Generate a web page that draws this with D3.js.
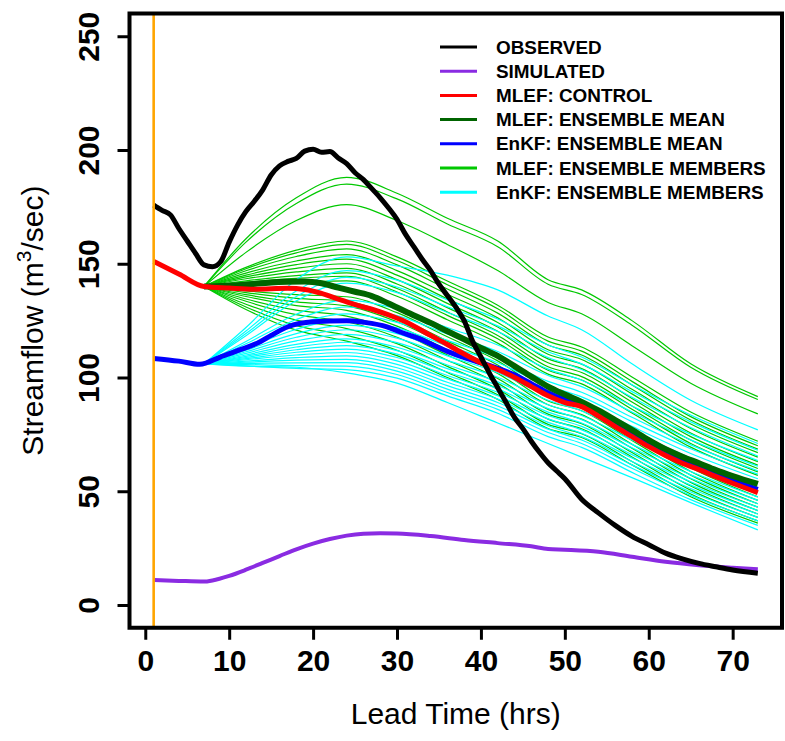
<!DOCTYPE html>
<html>
<head>
<meta charset="utf-8">
<title>Streamflow forecast</title>
<script src="https://cdn.jsdelivr.net/npm/d3@7"></script>
<style>
  body { margin: 0; background: #fff; }
  svg { display: block; font-family: "Liberation Sans", Arial, Helvetica, sans-serif; }
</style>
</head>
<body>
<svg id="chart" width="785" height="741"></svg>
<script>
// ---- data ----
const yTicks = [0, 50, 100, 150, 200, 250];
const xTicks = [0, 10, 20, 30, 40, 50, 60, 70];
const forecastStart = 1;

const observedX = [1, 2, 3, 4, 5, 6, 7, 8, 9, 10, 11, 12, 13, 14, 15, 16, 17, 18, 19, 20, 21, 22, 23, 24, 25, 26, 27, 28, 29, 30,
  31, 32, 33, 34, 35, 36, 37, 38, 39, 40, 41, 42, 43, 44, 45, 46, 47, 48, 49, 50, 52, 54, 56, 58, 60, 62, 64, 66, 68, 70, 73];
const observedY = [175.8, 173.5, 171.5, 165.5, 160, 154.5, 149.5, 148.7, 151, 159.5, 167, 173, 177.5, 182.5, 189, 193, 195, 196.3, 199.5, 200.3,
  199, 199.3, 196.5, 194, 190, 187, 183, 179, 174.5, 169.5, 163, 157.5, 152, 147, 141, 136, 131, 125, 116, 109,
  102, 95.5, 89, 82.5, 77.5, 72, 67, 62.5, 59, 55.5, 46.5, 40.5, 35, 30.2, 26.5, 22.8, 20.3, 18.3, 16.8, 15.4, 14];

const simulatedX = [1, 4, 7, 8, 10, 12, 14, 16, 18, 20, 22, 24, 26, 28, 30, 34, 38, 42, 46, 48, 50, 54, 58, 62, 66, 70, 73];
const simulatedY = [11, 10.6, 10.3, 10.8, 12.8, 15.5, 18.5, 21.5, 24.5, 27, 29, 30.5, 31.3, 31.5, 31.4, 30.3, 28.6, 27.2, 25.8, 24.6, 24.3, 23.4, 21.2, 19, 17.5, 16.4, 15.7];

const controlX = [1, 4, 7, 10, 13, 17, 19, 21, 23, 25, 27, 29, 31, 34, 36, 38, 40, 42, 44, 46, 48, 50, 52, 54, 56, 58, 60, 62, 64, 66, 68, 70, 73];
const controlY = [151, 145.5, 140, 139.3, 138.8, 139.2, 138.7, 137, 134.5, 132, 130, 127.5, 124.5, 118.5, 114.5, 110.3, 106.5, 103.5, 100, 96, 92, 89, 87.2, 83, 78.4, 74, 69.6, 65.7, 62.3, 59.5, 56.4, 53.5, 49.4];

const mlefMeanX = [7, 9, 12, 15, 17, 19, 21, 23, 25, 27, 29, 31, 34, 36, 38, 40, 42, 44, 46, 48, 50, 52, 54, 56, 58, 60, 62, 64, 66, 68, 70, 73];
const mlefMeanY = [140, 140.2, 140.8, 141.8, 142.1, 142.2, 141.4, 139.5, 137.7, 135.8, 132.5, 129, 124, 120.3, 116.8, 113, 109.5, 105, 100.4, 96, 92.5, 89.3, 85.5, 81.3, 77, 72.5, 68.5, 65.2, 62.3, 59.3, 56.7, 53.2];

const enkfMeanX = [1, 4, 6.5, 9, 11, 13.7, 15, 17, 20, 24, 26, 28.8, 30.4, 32.7, 34.3, 36, 38.3, 40, 42, 44, 46, 48, 50, 52, 54, 56, 58, 60, 62, 64, 66, 68, 70, 73];
const enkfMeanY = [108.4, 107.2, 105.8, 109.1, 111.8, 115.7, 118.5, 122.3, 124.5, 125, 124.3, 122.3, 120, 117, 114.3, 111.5, 108.4, 106.5, 104, 101.2, 97.3, 93.3, 90.3, 88.5, 84.3, 79.7, 75.3, 70.9, 67, 63.6, 60.8, 57.7, 54.8, 50.8];

// ensemble members share these lead times
const memberX = [7, 12, 18, 24, 30, 36, 42, 48, 52, 58, 65, 73];
const mlefMembers = [
  [140, 161, 179, 188, 181, 170, 160, 143, 138.5, 125, 106, 91.6],
  [140, 159.5, 176.5, 185, 178.5, 167.5, 157.5, 141, 136.5, 123, 104.5, 90.3],
  [140, 155, 169, 176, 169, 158.5, 147, 133, 128, 114, 97.5, 84],
  [140, 148.4, 156, 160, 153, 142.4, 131.8, 117.8, 113.4, 100.2, 84.8, 72],
  [140, 147.8, 154.8, 158.5, 151.4, 140.8, 130.2, 116, 111.6, 98.3, 82.8, 70],
  [140, 146.9, 153.2, 156.5, 149.5, 138.9, 128.3, 114.3, 109.9, 96.7, 81.3, 68.5],
  [140, 145.9, 151.2, 154, 147, 136.6, 126.2, 112.2, 107.9, 94.8, 79.6, 67],
  [140, 145, 149.6, 152, 145, 134.6, 124.2, 110.2, 105.9, 92.8, 77.6, 65],
  [140, 144.2, 148, 150, 143, 132.6, 122.2, 108.2, 103.9, 90.8, 75.6, 63],
  [140, 143.4, 146.4, 148, 141.1, 130.7, 120.3, 106.5, 102.2, 89.2, 74, 61.5],
  [140, 142.5, 144.8, 146, 139.1, 128.8, 118.5, 104.7, 100.4, 87.5, 72.5, 60],
  [140, 141.9, 143.6, 144.5, 137.6, 127.3, 117, 103.2, 98.9, 86, 71, 58.5],
  [140, 141, 142, 142.5, 135.7, 125.4, 115.1, 101.5, 97.2, 84.4, 69.4, 57],
  [140, 138.1, 136.4, 135.5, 128.5, 117.9, 107.3, 93.3, 88.9, 75.7, 60.3, 47.5],
  [140, 137.3, 134.8, 133.5, 126.5, 116, 105.5, 91.5, 87.1, 74, 58.7, 46],
  [140, 136.4, 133.2, 131.5, 124.5, 114.1, 103.7, 89.7, 85.4, 72.3, 57.1, 44.5],
  [140, 135.6, 131.6, 129.5, 122.6, 112.2, 101.8, 88, 83.7, 70.7, 55.5, 43],
  [140, 134.5, 129.6, 127, 120.2, 109.9, 99.6, 86, 81.7, 68.9, 53.9, 41.5],
  [140, 133.5, 127.6, 124.5, 117.7, 107.6, 97.5, 83.9, 79.7, 67, 52.3, 40],
  [140, 132.2, 125.2, 121.5, 114.9, 104.9, 94.9, 81.7, 77.5, 65.1, 50.5, 38.5],
  [140, 131, 122.8, 118.5, 112, 102.2, 92.4, 79.4, 75.3, 63.1, 48.8, 37],
  [140, 129.9, 120.8, 116, 109.6, 100, 90.4, 77.6, 73.6, 61.6, 47.6, 36]
];
const enkfMembers = [
  [106, 122, 143, 153, 149, 145, 138.5, 127, 121, 106, 90, 77],
  [106, 120.4, 138, 147, 142.8, 134.1, 125.7, 114.3, 109, 96.8, 83.5, 71],
  [106, 119.3, 135.6, 144, 139.8, 131.1, 122.7, 111.3, 106, 93.8, 80.5, 68],
  [106, 118.4, 133.7, 141.5, 137.3, 128.6, 120.2, 108.8, 103.5, 91.3, 78, 65.5],
  [106, 115.8, 127.8, 134, 130.1, 122, 114.3, 103.7, 98.8, 87.5, 75.1, 63.5],
  [106, 114.8, 125.5, 131, 127.2, 119.1, 111.4, 100.9, 96, 84.8, 72.6, 61],
  [106, 113.7, 123.2, 128, 124.2, 116.3, 108.7, 98.3, 93.5, 82.5, 70.4, 59],
  [106, 112.8, 121.2, 125.5, 121.8, 113.9, 106.5, 96.3, 91.5, 80.6, 68.7, 57.5],
  [106, 112, 119.3, 123, 119.3, 111.5, 104.1, 94, 89.3, 78.5, 66.6, 55.5],
  [106, 111.3, 117.7, 121, 117.3, 109.5, 102.1, 92, 87.3, 76.5, 64.6, 53.5],
  [106, 110.6, 116.1, 119, 115.3, 107.5, 100.1, 90, 85.3, 74.5, 62.6, 51.5],
  [106, 109.9, 114.6, 117, 113.3, 105.5, 98.1, 88, 83.3, 72.5, 60.6, 49.5],
  [106, 109.3, 113.4, 115.5, 111.8, 103.9, 96.5, 86.3, 81.5, 70.6, 58.7, 47.5],
  [106, 108.8, 112.2, 114, 110.3, 102.4, 95, 84.8, 80, 69.1, 57.2, 46],
  [106, 108.3, 111.1, 112.5, 108.8, 100.9, 93.5, 83.3, 78.5, 67.6, 55.7, 44.5],
  [106, 107.8, 109.9, 111, 107.3, 99.4, 92, 81.8, 77, 66.1, 54.2, 43],
  [106, 107.2, 108.7, 109.5, 105.8, 97.9, 90.5, 80.3, 75.5, 64.6, 52.7, 41.5],
  [106, 106.7, 107.6, 108, 104.3, 96.4, 89, 78.8, 74, 63.1, 51.2, 40],
  [106, 106.2, 106.4, 106.5, 102.8, 94.9, 87.5, 77.3, 72.5, 61.6, 49.7, 38.5],
  [106, 105.7, 105.2, 105, 101.3, 93.4, 86, 75.8, 71, 60.1, 48.2, 37],
  [106, 105.1, 104, 103.5, 99.7, 91.9, 84.3, 74, 69.3, 58.3, 46.3, 35],
  [106, 105, 104.5, 102, 97.5, 89, 80, 71, 65, 56, 45, 33]
];

const legendLabels = ["OBSERVED", "SIMULATED", "MLEF: CONTROL", "MLEF: ENSEMBLE MEAN", "EnKF: ENSEMBLE MEAN", "MLEF: ENSEMBLE MEMBERS", "EnKF: ENSEMBLE MEMBERS"];
const legendColors = ["#000000", "#8a2be2", "#ff0000", "#006400", "#0000ff", "#00c800", "#00ffff"];

// ---- layout ----
const svg = d3.select("#chart");
const plot = { left: 129.5, right: 782, top: 13.5, bottom: 627.75 };

const x = d3.scaleLinear().domain([-1.88, 75.88]).range([plot.left, plot.right]);
const y = d3.scaleLinear().domain([-10, 260]).range([plot.bottom, plot.top]);

const pts = (xs, ys) => xs.map((v, i) => [v, ys[i]]);
const line = d3.line()
    .x(d => x(d[0]))
    .y(d => y(d[1]))
    .curve(d3.curveMonotoneX);

const g = svg.append("g");

// ensemble members
g.selectAll(".mlef").data(mlefMembers).enter().append("path")
    .attr("fill", "none").attr("stroke", legendColors[5]).attr("stroke-width", 1.2)
    .attr("d", m => line(pts(memberX, m)));
g.selectAll(".enkf").data(enkfMembers).enter().append("path")
    .attr("fill", "none").attr("stroke", legendColors[6]).attr("stroke-width", 1.2)
    .attr("d", m => line(pts(memberX, m)));

function drawLine(xs, ys, color, w) {
    g.append("path")
        .attr("fill", "none")
        .attr("stroke", color)
        .attr("stroke-width", w)
        .attr("stroke-linejoin", "round")
        .attr("d", line(pts(xs, ys)));
}
drawLine(enkfMeanX, enkfMeanY, legendColors[4], 5);
drawLine(mlefMeanX, mlefMeanY, legendColors[3], 6);
drawLine(controlX, controlY, legendColors[2], 5);
drawLine(simulatedX, simulatedY, legendColors[1], 4);
drawLine(observedX, observedY, legendColors[0], 5);

// forecast start
g.append("line")
    .attr("x1", x(forecastStart)).attr("x2", x(forecastStart))
    .attr("y1", plot.top).attr("y2", plot.bottom)
    .attr("stroke", "#ffa500").attr("stroke-width", 2.6);

// box
svg.append("rect")
    .attr("x", plot.left).attr("y", plot.top)
    .attr("width", plot.right - plot.left).attr("height", plot.bottom - plot.top)
    .attr("fill", "none").attr("stroke", "#000").attr("stroke-width", 4);

// axes
const yAxis = svg.append("g")
    .attr("transform", "translate(" + plot.left + ",0)")
    .call(d3.axisLeft(y).tickValues(yTicks).tickSize(12));
yAxis.select(".domain").remove();
yAxis.selectAll("line").attr("stroke", "#000").attr("stroke-width", 3);
yAxis.selectAll("text")
    .attr("transform", "rotate(-90)")
    .attr("x", 0).attr("y", -30.5).attr("dy", 0)
    .attr("text-anchor", "middle")
    .attr("font-size", 30).attr("font-weight", "bold")
    .attr("font-family", "'Liberation Sans', Arial, sans-serif")
    .attr("fill", "#000");

const xAxis = svg.append("g")
    .attr("transform", "translate(0," + plot.bottom + ")")
    .call(d3.axisBottom(x).tickValues(xTicks).tickSize(12));
xAxis.select(".domain").remove();
xAxis.selectAll("line").attr("stroke", "#000").attr("stroke-width", 3);
xAxis.selectAll("text")
    .attr("y", 43).attr("dy", 0)
    .attr("font-size", 30).attr("font-weight", "bold")
    .attr("font-family", "'Liberation Sans', Arial, sans-serif")
    .attr("fill", "#000");

// axis titles
svg.append("text")
    .attr("x", (plot.left + plot.right) / 2).attr("y", 724)
    .attr("text-anchor", "middle").attr("font-size", 30)
    .text("Lead Time (hrs)");

const yt = svg.append("text")
    .attr("transform", "translate(43," + (plot.top + plot.bottom) / 2 + ") rotate(-90)")
    .attr("text-anchor", "middle").attr("font-size", 30);
yt.append("tspan").text("Streamflow (m");
yt.append("tspan").attr("font-size", 21).attr("dy", -12).text("3");
yt.append("tspan").attr("dy", 12).text("/sec)");

// legend
const leg = svg.append("g");
legendLabels.forEach((lab, i) => {
    const ly = 47 + i * 24.2;
    leg.append("line")
        .attr("x1", 440).attr("x2", 477).attr("y1", ly).attr("y2", ly)
        .attr("stroke", legendColors[i]).attr("stroke-width", 3);
    leg.append("text")
        .attr("x", 496).attr("y", ly + 6.5)
        .attr("font-size", 18.9).attr("font-weight", "bold")
        .text(lab);
});
</script>
</body>
</html>
